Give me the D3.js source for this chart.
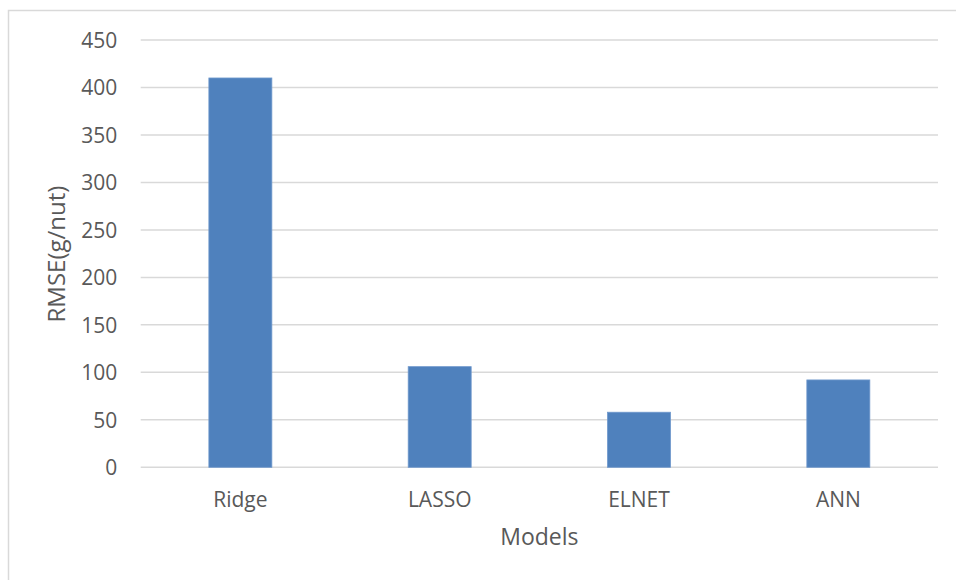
<!DOCTYPE html>
<html>
<head>
<meta charset="utf-8">
<script src="https://cdn.jsdelivr.net/npm/d3@7"></script>
<style>
  html, body { margin: 0; padding: 0; background: #fff; }
  svg { display: block; }
  svg text { font-family: "Open Sans", "Liberation Sans", sans-serif; }
</style>
</head>
<body>
<svg id="chart" width="956" height="580"></svg>
<script>
const categories = ["Ridge", "LASSO", "ELNET", "ANN"];
const values = [410, 106, 58, 92];
const yTicks = [0, 50, 100, 150, 200, 250, 300, 350, 400, 450];
const xTitle = "Models";
const yTitle = "RMSE(g/nut)";

const svg = d3.select("#chart");
const W = 956, H = 580;
const plot = { left: 140.7, right: 938, top: 40, bottom: 467.3 };
const FONT = '"Open Sans", "Liberation Sans", sans-serif';

// outer border
svg.append("rect")
  .attr("x", 8.5).attr("y", 10.5)
  .attr("width", W + 10).attr("height", H + 10)
  .attr("fill", "#fff").attr("stroke", "#d9d9d9").attr("stroke-width", 1.5);

const x = d3.scaleBand()
  .domain(categories)
  .range([plot.left, plot.right])
  .paddingInner(0.684)
  .paddingOuter(0.342);

const y = d3.scaleLinear()
  .domain([0, 450])
  .range([plot.bottom, plot.top]);

// gridlines
svg.append("g")
  .selectAll("line")
  .data(yTicks)
  .join("line")
  .attr("x1", plot.left).attr("x2", plot.right)
  .attr("y1", d => y(d)).attr("y2", d => y(d))
  .attr("stroke", "#d9d9d9").attr("stroke-width", 1.5);

// y axis labels
const yAxis = d3.axisLeft(y).tickValues(yTicks).tickSize(0).tickPadding(0);
const gy = svg.append("g")
  .attr("transform", `translate(${plot.left - 23.5},0)`)
  .call(yAxis)
  .attr("font-family", FONT)
  .attr("font-size", 21);
gy.select(".domain").remove();
gy.selectAll("text")
  .attr("fill", "#595959")
  .attr("dy", "0.35em");

// bars
svg.append("g")
  .selectAll("rect")
  .data(values)
  .join("rect")
  .attr("x", (d, i) => x(categories[i]))
  .attr("width", x.bandwidth())
  .attr("y", d => y(d))
  .attr("height", d => y(0) - y(d))
  .attr("fill", "#4f81bd")
  .attr("stroke", "#6f98cc")
  .attr("stroke-width", 0.8);

// x axis labels
const xAxis = d3.axisBottom(x).tickSize(0).tickPadding(0);
const gx = svg.append("g")
  .attr("transform", `translate(0,${plot.bottom})`)
  .call(xAxis)
  .attr("font-family", FONT)
  .attr("font-size", 21);
gx.select(".domain").remove();
gx.selectAll("text")
  .attr("fill", "#595959")
  .attr("y", 39.5)
  .attr("dy", null);

// axis titles
svg.append("text")
  .attr("x", (plot.left + plot.right) / 2)
  .attr("y", 545)
  .attr("text-anchor", "middle")
  .attr("fill", "#595959")
  .style("font-size", "23px")
  .text(xTitle);

svg.append("text")
  .attr("transform", `translate(65,254) rotate(-90)`)
  .attr("text-anchor", "middle")
  .attr("fill", "#595959")
  .style("font-size", "24px")
  .text(yTitle);
</script>
</body>
</html>
